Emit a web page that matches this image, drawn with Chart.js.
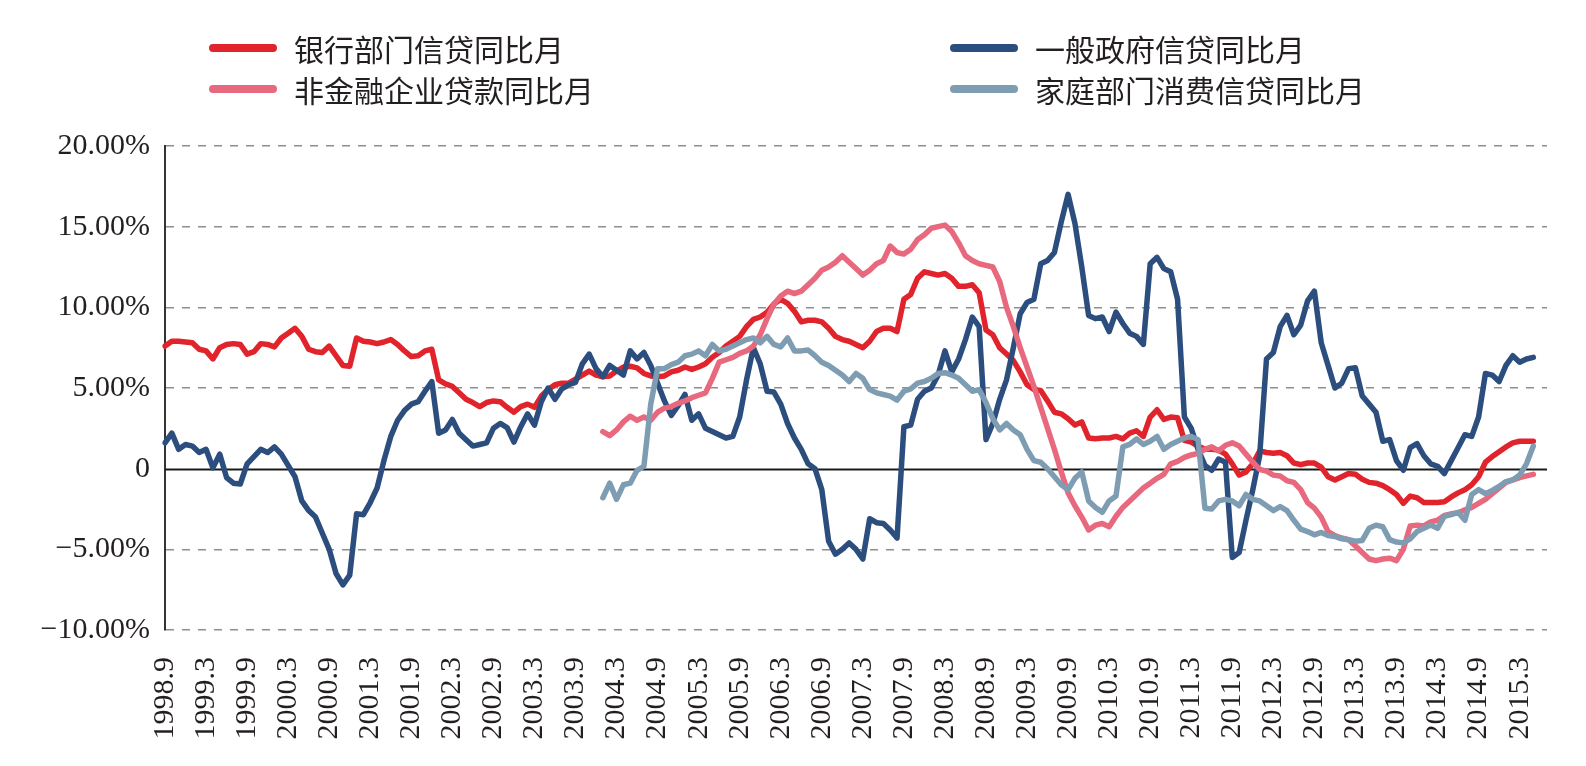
<!DOCTYPE html>
<html>
<head>
<meta charset="utf-8">
<title>信贷同比</title>
<script src="https://cdn.jsdelivr.net/npm/chart.js@4.4.1/dist/chart.umd.min.js"></script>
<style>
  html, body { margin: 0; padding: 0; background: #fff; }
  #wrap { position: relative; width: 1586px; height: 766px; overflow: hidden; }
  #chart { position: absolute; left: 0; top: 0; }
  .leg { position: absolute; display: flex; align-items: center; height: 36px;
         font-family: "Noto Sans CJK SC", sans-serif; font-size: 30px; color: #231f20; white-space: nowrap; }
  .leg i { display: inline-block; width: 68px; height: 8px; border-radius: 4px; margin-right: 17px; }
</style>
</head>
<body>
<div id="wrap">
  <canvas id="chart" width="1586" height="766"></canvas>
  <div id="legend"></div>
</div>
<script>
/* ── Data (monthly, from 1998.9) ─────────────────────────────── */
const firstYear = 1998, firstMonth = 9, monthCount = 203;

const tickLabels = ["1998.9","1999.3","1999.9","2000.3","2000.9","2001.3","2001.9","2002.3","2002.9",
  "2003.3","2003.9","2004.3","2004.9","2005.3","2005.9","2006.3","2006.9","2007.3","2007.9","2008.3",
  "2008.9","2009.3","2009.9","2010.3","2010.9","2011.3","2011.9","2012.3","2012.9","2013.3","2013.9",
  "2014.3","2014.9","2015.3"];

// 银行部门信贷同比月 (1998.9 →)
const bankCredit = [
  7.6, 7.9, 7.9, 7.85, 7.8, 7.4, 7.3, 6.8, 7.5, 7.7,
  7.75, 7.7, 7.1, 7.25, 7.75, 7.7, 7.55, 8.1, 8.4, 8.7,
  8.2, 7.4, 7.25, 7.2, 7.6, 7.0, 6.4, 6.35, 8.1, 7.9,
  7.85, 7.75, 7.85, 8.0, 7.7, 7.3, 6.95, 7.0, 7.3, 7.4,
  5.5, 5.25, 5.1, 4.7, 4.3, 4.1, 3.85, 4.1, 4.2, 4.15,
  3.8, 3.5, 3.85, 4.0, 3.8, 4.5, 4.9, 5.2, 5.3, 5.3,
  5.55, 5.8, 6.05, 5.8, 5.7, 5.75, 6.05, 6.3, 6.35, 6.25,
  5.9, 5.75, 5.7, 5.75, 6.0, 6.1, 6.3, 6.15, 6.3, 6.5,
  6.9, 7.2, 7.6, 7.9, 8.2, 8.8, 9.25, 9.4, 9.7, 10.2,
  10.5, 10.25, 9.75, 9.1, 9.2, 9.2, 9.1, 8.7, 8.2, 8.0,
  7.9, 7.7, 7.5, 7.9, 8.5, 8.7, 8.7, 8.5, 10.5, 10.8,
  11.8, 12.2, 12.1, 12.0, 12.1, 11.8, 11.3, 11.3, 11.4, 10.9,
  8.6, 8.3, 7.5, 7.1, 6.7, 6.0, 5.2, 4.9, 4.85, 4.2,
  3.5, 3.4, 3.1, 2.7, 2.9, 1.9, 1.85, 1.9, 1.9, 2.0,
  1.85, 2.2, 2.35, 2.0, 3.2, 3.65, 3.05, 3.2, 3.15, 1.75,
  1.65, 1.4, 1.2, 1.2, 1.15, 0.9, 0.3, -0.4, -0.2, 0.3,
  1.1, 1.0, 0.95, 1.0, 0.8, 0.35, 0.25, 0.35, 0.35, 0.1,
  -0.5, -0.7, -0.5, -0.3, -0.35, -0.65, -0.85, -0.9, -1.05, -1.3,
  -1.6, -2.15, -1.7, -1.8, -2.1, -2.1, -2.1, -2.05, -1.75, -1.5,
  -1.3, -1.0, -0.5, 0.4, 0.75, 1.05, 1.35, 1.6, 1.7, 1.7,
  1.7
];

// 一般政府信贷同比月 (1998.9 →)
const govCredit = [
  1.6, 2.2, 1.2, 1.5, 1.4, 1.0, 1.2, 0.05, 0.9, -0.55,
  -0.9, -0.95, 0.3, 0.75, 1.2, 1.0, 1.35, 0.9, 0.2, -0.5,
  -2.0, -2.6, -3.0, -4.0, -5.0, -6.5, -7.2, -6.6, -2.8, -2.85,
  -2.1, -1.2, 0.5, 2.0, 3.0, 3.6, 4.0, 4.15, 4.8, 5.4,
  2.2, 2.4, 3.05, 2.2, 1.8, 1.4, 1.5, 1.6, 2.5, 2.8,
  2.55, 1.65, 2.6, 3.4, 2.7, 4.15, 5.0, 4.3, 4.95, 5.2,
  5.35, 6.5, 7.1, 6.2, 5.7, 6.4, 6.1, 5.8, 7.3, 6.8,
  7.2, 6.4, 5.3, 4.2, 3.3, 3.9, 4.6, 3.0, 3.4, 2.5,
  2.3, 2.1, 1.9, 2.0, 3.2, 5.5, 7.5, 6.5, 4.8, 4.75,
  4.0, 2.8, 1.9, 1.2, 0.3, 0.0, -1.3, -4.5, -5.3, -5.0,
  -4.6, -5.0, -5.6, -3.1, -3.35, -3.4, -3.8, -4.3, 2.6, 2.7,
  4.3, 4.8, 5.0, 5.8, 7.3, 6.0, 6.8, 8.0, 9.4, 8.8,
  1.8, 2.8, 4.3, 5.5, 7.5, 9.6, 10.3, 10.5, 12.7, 12.9,
  13.4, 15.3, 17.0, 15.2, 12.5, 9.5, 9.3, 9.4, 8.5, 9.7,
  9.0, 8.4, 8.2, 7.7, 12.7, 13.1, 12.4, 12.2, 10.5, 3.2,
  2.5, 1.2, 0.2, -0.1, 0.6, 0.4, -5.5, -5.2, -3.2, -1.3,
  0.8, 6.8, 7.2, 8.8, 9.5, 8.3, 8.9, 10.4, 11.0, 7.8,
  6.4, 5.0, 5.3, 6.2, 6.25, 4.5, 4.0, 3.5, 1.7, 1.8,
  0.5, -0.1, 1.3, 1.55, 0.8, 0.3, 0.15, -0.3, 0.5, 1.3,
  2.1, 2.0, 3.2, 5.9, 5.8, 5.4, 6.4, 7.0, 6.6, 6.8,
  6.9
];

// 非金融企业贷款同比月 (2004.1 →)
const corpStart = 64;
const corpLoan = [
  2.3, 2.05, 2.4, 2.9, 3.25, 3.0,
  3.2, 3.0, 3.5, 3.75, 3.85, 4.05, 4.2, 4.4, 4.55, 4.7,
  5.6, 6.6, 6.75, 6.9, 7.15, 7.3, 7.6, 8.3, 9.3, 10.2,
  10.7, 11.0, 10.85, 11.0, 11.4, 11.8, 12.3, 12.5, 12.8, 13.2,
  12.8, 12.4, 12.0, 12.3, 12.7, 12.9, 13.8, 13.4, 13.3, 13.6,
  14.2, 14.5, 14.9, 15.0, 15.1, 14.7, 14.0, 13.2, 12.9, 12.7,
  12.6, 12.5, 11.6, 10.0, 8.8, 7.5, 6.3, 5.1, 3.8, 2.5,
  1.2, -0.2, -1.5, -2.3, -3.0, -3.8, -3.5, -3.4, -3.6, -2.95,
  -2.4, -2.0, -1.6, -1.2, -0.9, -0.6, -0.35, 0.3, 0.45, 0.7,
  0.85, 0.95, 1.2, 1.35, 1.1, 1.45, 1.6, 1.4, 0.9, 0.4,
  -0.05, -0.15, -0.4, -0.45, -0.75, -0.85, -1.3, -2.1, -2.45, -3.0,
  -3.9, -4.15, -4.3, -4.4, -4.8, -5.2, -5.6, -5.7, -5.6, -5.55,
  -5.7, -5.0, -3.55, -3.5, -3.55, -3.3, -3.2, -2.9, -2.8, -2.75,
  -2.55, -2.4, -2.15, -1.9, -1.55, -1.2, -0.85, -0.7, -0.55, -0.45,
  -0.35
];

// 家庭部门消费信贷同比月 (2004.1 →)
const houseStart = 64;
const houseCredit = [
  -1.8, -0.9, -1.9, -1.0, -0.9, -0.1,
  0.15, 4.0, 6.2, 6.2, 6.45, 6.6, 7.0, 7.1, 7.3, 7.0,
  7.7, 7.3, 7.4, 7.6, 7.8, 8.0, 8.1, 7.8, 8.2, 7.7,
  7.55, 8.1, 7.3, 7.3, 7.35, 7.0, 6.6, 6.4, 6.1, 5.8,
  5.4, 5.9, 5.6, 4.9, 4.7, 4.6, 4.5, 4.25, 4.8, 4.95,
  5.3, 5.4, 5.6, 5.9, 5.95, 5.8, 5.6, 5.2, 4.8, 4.9,
  4.1, 3.1, 2.4, 2.8, 2.4, 2.1, 1.2, 0.5, 0.4, 0.0,
  -0.5, -1.0, -1.3, -0.6, -0.2, -2.0, -2.4, -2.7, -2.0, -1.7,
  1.35, 1.5, 1.85, 1.5, 1.7, 2.0, 1.2, 1.5, 1.7, 1.9,
  2.0, 1.8, -2.45, -2.5, -2.0, -1.9, -2.0, -2.3, -1.6, -1.9,
  -2.0, -2.3, -2.6, -2.35, -2.6, -3.2, -3.75, -3.9, -4.1, -3.95,
  -4.15, -4.2, -4.35, -4.4, -4.5, -4.45, -3.7, -3.5, -3.6, -4.4,
  -4.55, -4.6, -4.35, -3.9, -3.7, -3.5, -3.7, -2.95, -2.85, -2.7,
  -3.2, -1.6, -1.3, -1.55, -1.35, -1.1, -0.8, -0.7, -0.4, 0.3,
  1.4
];

/* ── Series styling ──────────────────────────────────────────── */
const series = [
  { name: "银行部门信贷同比月",     data: bankCredit,                                      color: "#e1232b", order: 3, legend: [209, 48] },
  { name: "一般政府信贷同比月",     data: govCredit,                                       color: "#2c4e7e", order: 2, legend: [950, 48] },
  { name: "非金融企业贷款同比月",   data: Array(corpStart).fill(null).concat(corpLoan),    color: "#e8687e", order: 1, legend: [209, 89] },
  { name: "家庭部门消费信贷同比月", data: Array(houseStart).fill(null).concat(houseCredit), color: "#7f9db2", order: 0, legend: [950, 89] },
];

// category labels: one per month
const months = [];
for (let k = 0; k < monthCount; k++) {
  const m = firstMonth - 1 + k;
  months.push(`${firstYear + Math.floor(m / 12)}.${(m % 12) + 1}`);
}

/* ── Legend (two columns, as in the source) ──────────────────── */
document.getElementById("legend").innerHTML = series.map(s => `
  <div class="leg" style="left:${s.legend[0]}px;top:${s.legend[1] - 18}px">
    <i style="background:${s.color}"></i>${s.name}
  </div>`).join("");

/* ── Zero line under the series ──────────────────────────────── */
const zeroLine = {
  id: "zeroLine",
  beforeDatasetsDraw(chart) {
    const { ctx, chartArea, scales } = chart;
    const y = Math.round(scales.y.getPixelForValue(0)) + 0.5;
    ctx.save();
    ctx.strokeStyle = "#1a1a1a";
    ctx.lineWidth = 2;
    ctx.beginPath();
    ctx.moveTo(chartArea.left, y);
    ctx.lineTo(chartArea.right, y);
    ctx.stroke();
    ctx.restore();
  }
};

const tickFont = { family: "'Liberation Serif', 'Times New Roman', serif", size: 30 };

new Chart(document.getElementById("chart").getContext("2d"), {
  type: "line",
  data: {
    labels: months,
    datasets: series.map(s => ({
      label: s.name,
      data: s.data,
      order: s.order,
      borderColor: s.color,
      borderWidth: 5.5,
      borderJoinStyle: "round",
      borderCapStyle: "round",
      pointRadius: 0,
      tension: 0,
      fill: false,
    })),
  },
  options: {
    responsive: false,
    animation: false,
    layout: { padding: { top: 146, right: 39, left: 0, bottom: 0 } },
    plugins: { legend: { display: false }, tooltip: { enabled: false } },
    scales: {
      x: {
        offset: false,
        grid: { display: false, drawTicks: false },
        border: { display: false },
        ticks: {
          autoSkip: false, minRotation: 90, maxRotation: 90, padding: 27,
          color: "#231f20", font: tickFont,
          callback: (v, i) => tickLabels.includes(months[i]) && i % 6 === 0 ? months[i] : null,
        },
        afterFit: s => { s.height = 136; },
      },
      y: {
        min: -10, max: 20,
        grid: {
          drawTicks: false, lineWidth: 1.5,
          color: c => (c.tick && c.tick.value === 0 ? "rgba(0,0,0,0)" : "#8e8e8e"),
        },
        border: { display: true, color: "#333", width: 2, dash: [8, 8] },
        ticks: {
          stepSize: 5, padding: 15, color: "#231f20", font: tickFont,
          callback: v => v === 0 ? "0" : (v < 0 ? "\u2212" : "") + Math.abs(v).toFixed(2) + "%",
        },
        afterFit: s => { s.width = 165; },
      },
    },
  },
  plugins: [zeroLine],
});
</script>
</body>
</html>
